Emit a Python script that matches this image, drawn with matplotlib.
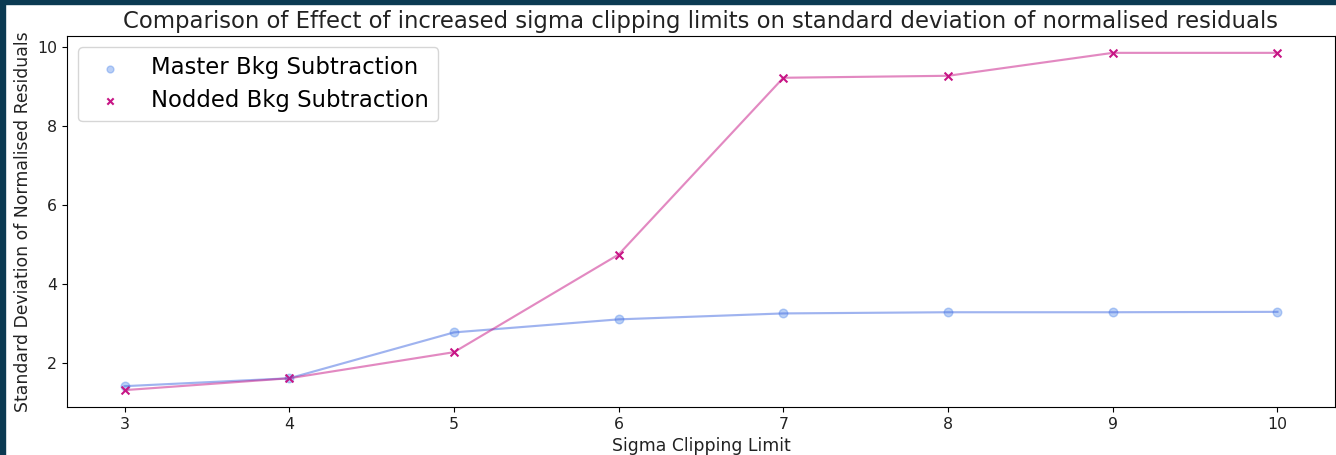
import matplotlib
matplotlib.use("Agg")
import matplotlib.pyplot as plt
from matplotlib.patches import Rectangle

sigma_limits = [3, 4, 5, 6, 7, 8, 9, 10]
master_std = [1.42, 1.62, 2.78, 3.11, 3.26, 3.29, 3.29, 3.30]
nodded_std = [1.32, 1.62, 2.28, 4.75, 9.22, 9.27, 9.85, 9.85]

fig = plt.figure(figsize=(13.36, 4.55), dpi=100)
ax = fig.add_axes([0.0501, 0.1055, 0.9492, 0.8154])

ax.plot(sigma_limits, master_std, color='royalblue', alpha=0.5, lw=1.55)
ax.scatter(sigma_limits, master_std, color='cornflowerblue', alpha=0.45, s=38,
           label='Master Bkg Subtraction')
ax.plot(sigma_limits, nodded_std, color='mediumvioletred', alpha=0.5, lw=1.55)
ax.scatter(sigma_limits, nodded_std, color='mediumvioletred', marker='x', s=32,
           label='Nodded Bkg Subtraction')

ax.set_title('Comparison of Effect of increased sigma clipping limits on standard deviation of normalised residuals',
             fontsize=16.4, color='#222222')
ax.set_xlabel('Sigma Clipping Limit', fontsize=12.4, color='#222222')
ax.set_ylabel('Standard Deviation of Normalised Residuals', fontsize=12.4, color='#222222')
ax.tick_params(labelsize=11.3, labelcolor='#222222')
ax.legend(fontsize=16.4, loc='upper left', labelspacing=0.42, scatterpoints=1,
          markerscale=0.8)

# screenshot frame
fig.patches.append(Rectangle((0, 0), 5 / 1336, 1, transform=fig.transFigure,
                             color='#0b3a52', zorder=10))
fig.patches.append(Rectangle((0, 1 - 4 / 455), 1, 4 / 455, transform=fig.transFigure,
                             color='#0b3a52', zorder=10))

fig.savefig('out.png', dpi=100)
